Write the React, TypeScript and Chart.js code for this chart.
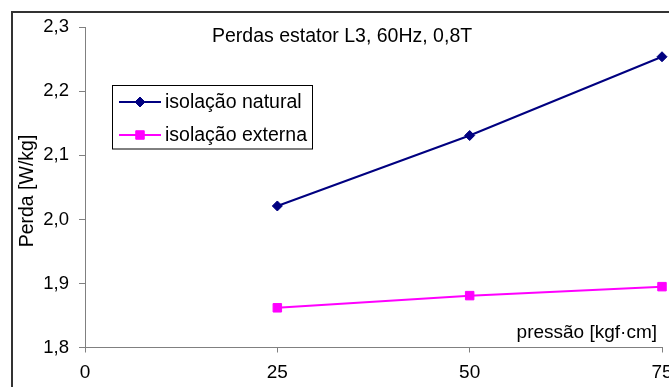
import React, { useEffect, useRef } from "react";
import { Chart, registerables } from "chart.js";

Chart.register(...registerables);

const xValues = [25, 50, 75];
const naturalValues = [2.021, 2.131, 2.254];
const externalValues = [1.862, 1.881, 1.895];
const seriesNames = ["isolação natural", "isolação externa"];
const chartTitle = "Perdas estator L3, 60Hz, 0,8T";
const xTitle = "pressão [kgf·cm]";
const yTitle = "Perda [W/kg]";

const FONT = "'Liberation Sans', Arial, sans-serif";
const NAVY = "#000080";
const MAGENTA = "#FF00FF";

const decorPlugin = {
  id: "decor",
  beforeDraw(chart: any) {
    const ctx = chart.ctx;
    ctx.save();
    ctx.fillStyle = "#fff";
    ctx.fillRect(0, 0, chart.width, chart.height);
    ctx.restore();
  },
  afterDraw(chart: any) {
    const ctx = chart.ctx;
    const ca = chart.chartArea;
    ctx.save();
    // outer frame (top and left edges visible)
    ctx.strokeStyle = "#333";
    ctx.lineWidth = 2;
    ctx.beginPath();
    ctx.moveTo(chart.width + 5, 12);
    ctx.lineTo(12, 12);
    ctx.lineTo(12, chart.height + 5);
    ctx.stroke();

    // chart title
    ctx.fillStyle = "#000";
    ctx.font = `19.5px ${FONT}`;
    ctx.textAlign = "left";
    ctx.textBaseline = "alphabetic";
    ctx.fillText(chartTitle, 212, 42);

    // x title inside plot
    ctx.font = `19px ${FONT}`;
    ctx.textAlign = "right";
    ctx.fillText(xTitle, ca.right - 5, 338);

    // y title
    ctx.save();
    ctx.font = `19.5px ${FONT}`;
    ctx.translate(28, 191);
    ctx.rotate(-Math.PI / 2);
    ctx.textAlign = "center";
    ctx.textBaseline = "middle";
    ctx.fillText(yTitle, 0, 0);
    ctx.restore();

    // legend
    const lx = 112.5, ly = 85.5, lw = 200, lh = 63.5;
    ctx.fillStyle = "#fff";
    ctx.fillRect(lx, ly, lw, lh);
    ctx.strokeStyle = "#000";
    ctx.lineWidth = 1;
    ctx.strokeRect(lx, ly, lw, lh);
    const rows = [
      { name: seriesNames[0], color: NAVY, style: "rectRot", r: 5, y: 102 },
      { name: seriesNames[1], color: MAGENTA, style: "rect", r: 6, y: 135 },
    ];
    rows.forEach((row) => {
      ctx.strokeStyle = row.color;
      ctx.lineWidth = 2;
      ctx.beginPath();
      ctx.moveTo(119, row.y);
      ctx.lineTo(161, row.y);
      ctx.stroke();
      ctx.fillStyle = row.color;
      ctx.strokeStyle = row.color;
      ctx.lineWidth = 1;
      ctx.beginPath();
      if (row.style === "rectRot") {
        ctx.moveTo(140, row.y - row.r);
        ctx.lineTo(140 + row.r, row.y);
        ctx.lineTo(140, row.y + row.r);
        ctx.lineTo(140 - row.r, row.y);
        ctx.closePath();
      } else {
        const s = row.r * Math.SQRT1_2;
        ctx.rect(140 - s, row.y - s, 2 * s, 2 * s);
      }
      ctx.fill();
      ctx.stroke();
      ctx.fillStyle = "#000";
      ctx.font = `19.5px ${FONT}`;
      ctx.textAlign = "left";
      ctx.textBaseline = "middle";
      ctx.fillText(row.name, 165, row.y + 1);
    });
    ctx.restore();
  },
};

export default function App() {
  const ref = useRef<HTMLCanvasElement>(null);
  useEffect(() => {
    document.body.style.margin = "0";
    const chart = new Chart(ref.current as HTMLCanvasElement, {
      type: "line",
      data: {
        datasets: [
          {
            label: seriesNames[0],
            data: xValues.map((x, i) => ({ x, y: naturalValues[i] })),
            borderColor: NAVY,
            backgroundColor: NAVY,
            borderWidth: 2,
            pointStyle: "rectRot",
            pointRadius: 5,
            pointBorderWidth: 1,
            clip: false as any,
          },
          {
            label: seriesNames[1],
            data: xValues.map((x, i) => ({ x, y: externalValues[i] })),
            borderColor: MAGENTA,
            backgroundColor: MAGENTA,
            borderWidth: 2,
            pointStyle: "rect",
            pointRadius: 6,
            pointBorderWidth: 1,
            clip: false as any,
          },
        ],
      },
      options: {
        animation: false,
        responsive: false,
        devicePixelRatio: 1,
        layout: { padding: { top: 27.3, right: 6.5, left: 0, bottom: 0 } },
        plugins: {
          legend: { display: false },
          title: { display: false },
          tooltip: { enabled: false },
        },
        scales: {
          x: {
            type: "linear",
            min: 0,
            max: 75,
            ticks: {
              stepSize: 25,
              color: "#000",
              font: { family: FONT, size: 19 },
              padding: 9,
              maxRotation: 0,
            },
            grid: {
              display: true,
              drawOnChartArea: false,
              drawTicks: true,
              tickLength: 5,
              color: "#808080",
            },
            border: { display: true, color: "#808080", width: 1 },
            afterFit: (scale: any) => {
              scale.height = 39.5;
              scale.paddingLeft = 0;
              scale.paddingRight = 0;
            },
          },
          y: {
            type: "linear",
            min: 1.8,
            max: 2.3,
            ticks: {
              stepSize: 0.1,
              color: "#000",
              font: { family: FONT, size: 18.5 },
              padding: 10,
              callback: (v: any) => Number(v).toFixed(1).replace(".", ","),
            },
            grid: {
              display: true,
              drawOnChartArea: false,
              drawTicks: true,
              tickLength: 6,
              color: "#808080",
            },
            border: { display: true, color: "#808080", width: 1 },
            afterFit: (scale: any) => {
              scale.width = 85;
              scale.paddingTop = 0;
              scale.paddingBottom = 0;
            },
          },
        },
      },
      plugins: [decorPlugin],
    });
    return () => chart.destroy();
  }, []);
  return (
    <div style={{ position: "fixed", left: 0, top: 0, width: 669, height: 387 }}>
      <canvas ref={ref} width={669} height={387} style={{ width: 669, height: 387 }} />
    </div>
  );
}
